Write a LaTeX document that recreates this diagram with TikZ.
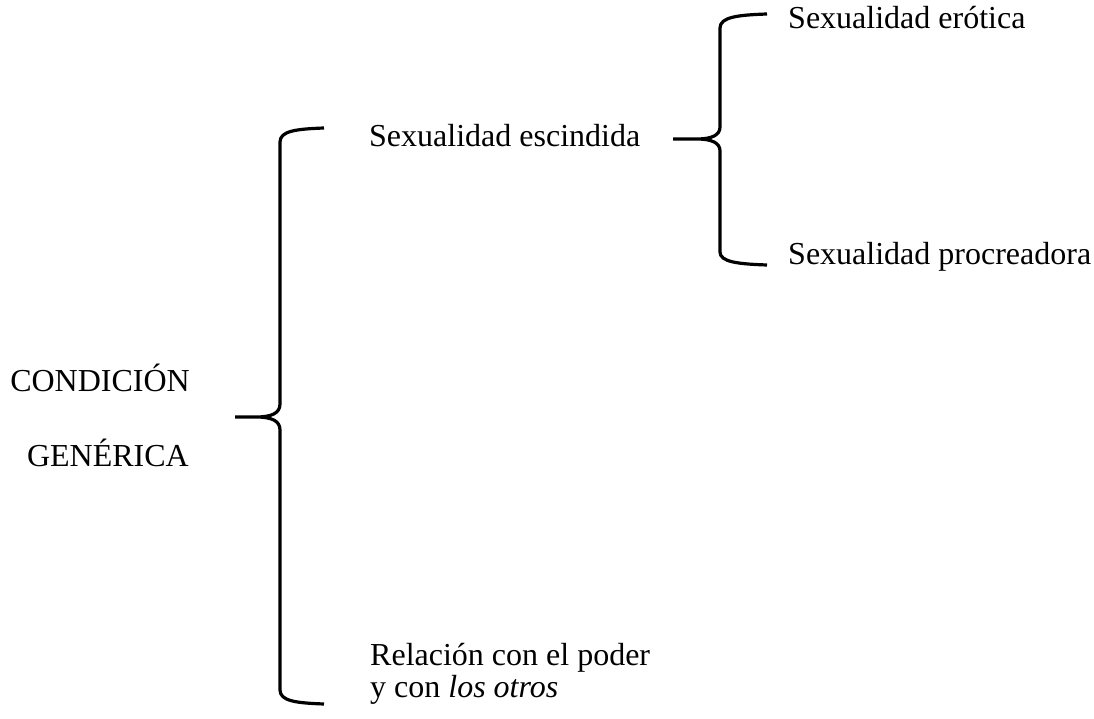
\documentclass[tikz,border=0pt]{standalone}
\usepackage{fontspec}
\setmainfont{Liberation Serif}

\begin{document}
\begin{tikzpicture}[x=1pt,y=-1pt,
	lbl/.style={inner sep=0pt,font=\fontsize{32}{32}\selectfont},
	brc/.style={line width=3.2pt,line join=round}]

\def\bigX{280}
\def\smallX{720}
\def\clrbrace{black}

\useasboundingbox (0,0) rectangle (1094,719);

% left label
\node [lbl,anchor=base east] (cond) at (190,391) {CONDICI\'ON};
\node [lbl,anchor=base east] (gen) at (189,466) {GEN\'ERICA};

% first level
\node [lbl,anchor=base west] (esc) at (369,147) {Sexualidad escindida};
\node [lbl,anchor=base west,align=left] (rel) at (370,697) {Relaci\'on con el poder\\y con \textit{los otros}};

% second level
\node [lbl,anchor=base west] (ero) at (788,29) {Sexualidad er\'otica};
\node [lbl,anchor=base west] (pro) at (788,265) {Sexualidad procreadora};

% big brace
\coordinate (bigtip) at (235,417);
\draw [brc,\clrbrace] (324,128) .. controls (296,129) and (\bigX,131) .. (\bigX,142)
	-- (\bigX,404) .. controls (\bigX,413) and (272,417) .. (256,417) -- (bigtip)
	(256,417) .. controls (272,417) and (\bigX,421) .. (\bigX,430)
	-- (\bigX,690) .. controls (\bigX,701) and (296,703) .. (324,704);

% small brace
\coordinate (smalltip) at (673,139);
\draw [brc,\clrbrace] (767,14) .. controls (738,15) and (\smallX,17) .. (\smallX,28)
	-- (\smallX,127) .. controls (\smallX,135) and (712,139) .. (697,139) -- (smalltip)
	(697,139) .. controls (712,139) and (\smallX,143) .. (\smallX,151)
	-- (\smallX,252) .. controls (\smallX,262) and (738,264) .. (767,265);

\end{tikzpicture}
\end{document}
